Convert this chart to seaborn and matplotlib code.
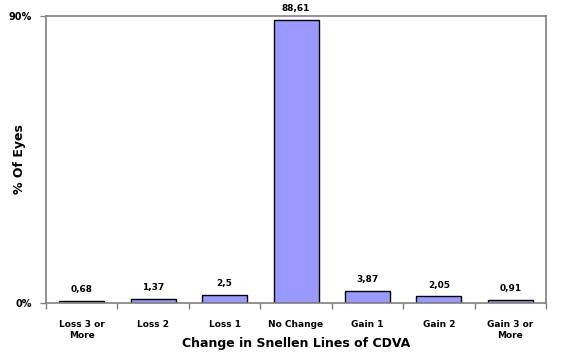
import matplotlib
matplotlib.use("Agg")
import matplotlib.pyplot as plt
import seaborn as sns
import pandas as pd
import numpy as np

categories = ["Loss 3 or\nMore", "Loss 2", "Loss 1", "No Change", "Gain 1", "Gain 2", "Gain 3 or\nMore"]
values = [0.68, 1.37, 2.5, 88.61, 3.87, 2.05, 0.91]
value_labels = ["0,68", "1,37", "2,5", "88,61", "3,87", "2,05", "0,91"]
ytick_values = [0, 90]
ytick_labels = ["0%", "90%"]

sns.set_style("white")
plt.rcParams['font.family'] = ['DejaVu Sans']
plt.rcParams['text.color'] = 'black'
plt.rcParams['xtick.color'] = 'black'
plt.rcParams['ytick.color'] = 'black'
plt.rcParams['axes.labelcolor'] = 'black'

df = pd.DataFrame({"cat": categories, "val": values})

fig = plt.figure(figsize=(5.71, 3.56), dpi=100)
ax = fig.add_axes([46/571, 1-303/356, 500/571, 287/356])
sns.barplot(data=df, x="cat", y="val", ax=ax, color="#9999FF", saturation=1,
            width=0.63, edgecolor="black", linewidth=1)

for p, lab in zip(ax.patches, value_labels):
    ax.annotate(lab, (p.get_x() + p.get_width()/2, p.get_height()),
                xytext=(0, 5), textcoords="offset points", ha="center", va="bottom",
                fontsize=6.5, fontweight="bold", color="black")

ax.set_ylim(0, 90)
ax.set_xlim(-0.5, len(categories) - 0.5)
ax.set_yticks(ytick_values)
ax.set_yticklabels(ytick_labels, fontsize=7, fontweight="bold")
ax.set_xticks(range(len(categories)))
ax.set_xticklabels(categories, fontsize=6.5, fontweight="bold", linespacing=1.4)
ax.set_xticks(np.arange(-0.5, len(categories) + 0.5, 1), minor=True)
ax.tick_params(axis="x", which="major", length=0, pad=12)
ax.tick_params(axis="x", which="minor", length=4, color="#808080", width=1, direction="out")
ax.tick_params(axis="y", which="major", length=4, color="#808080", width=1, direction="out", pad=6)
ax.tick_params(bottom=True, left=True, which="both")
ax.tick_params(axis="x", which="major", bottom=False)

for s in ax.spines.values():
    s.set_color("#808080")
    s.set_linewidth(1.2)

ax.set_xlabel("Change in Snellen Lines of CDVA", fontsize=9, fontweight="bold", va="center")
ax.xaxis.set_label_coords(0.5, -(344 - 303) / 287)
ax.set_ylabel("% Of Eyes", fontsize=9, fontweight="bold", va="center")
ax.yaxis.set_label_coords((19 - 46) / 500, 0.5)

fig.savefig("out.png", dpi=100)
